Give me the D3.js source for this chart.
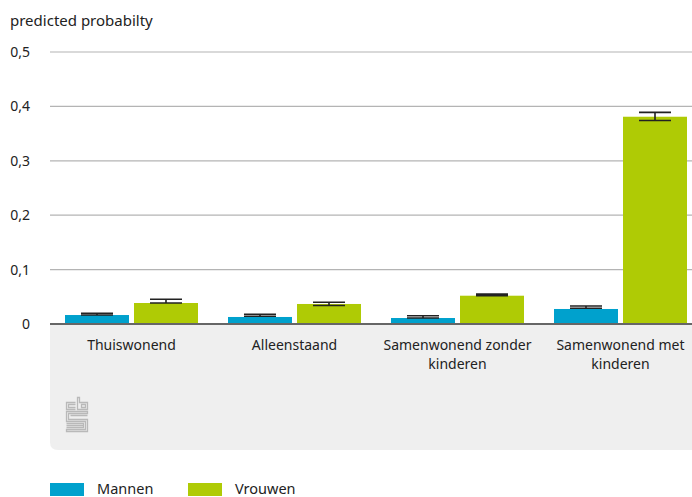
<!DOCTYPE html>
<html><head><meta charset="utf-8">
<script src="https://cdn.jsdelivr.net/npm/d3@7"></script>
<style>body{margin:0;background:#fff}svg{display:block}text{font-family:"Noto Sans",sans-serif;fill:#222}</style>
</head><body><svg id="c" width="692" height="497"></svg>
<script>
const categories = [["Thuiswonend"],["Alleenstaand"],["Samenwonend zonder","kinderen"],["Samenwonend met","kinderen"]];
const series = ["Mannen","Vrouwen"];
const mannen = [0.0165, 0.0129, 0.011, 0.0276];
const mannenLo = [0.0165, 0.0142, 0.011, 0.029];
const mannenHi = [0.0197, 0.0178, 0.0153, 0.033];
const vrouwen = [0.0386, 0.0368, 0.052, 0.381];
const vrouwenLo = [0.0386, 0.034, 0.052, 0.374];
const vrouwenHi = [0.0454, 0.040, 0.055, 0.389];
const yTicks = [0, 0.1, 0.2, 0.3, 0.4, 0.5];
const colors = ["#00a1cd", "#afcb05"];

(function () {
const svg = d3.select("#c");
const pLeft = 50, pRight = 692, pTop = 52, pBottom = 324;
const y = d3.scaleLinear().domain([0, 0.5]).range([pBottom, pTop]);
const x0 = d3.scaleBand().domain(d3.range(categories.length)).range([pLeft, pLeft + 4 * 163]).paddingInner(0).paddingOuter(0);
const x1 = d3.scaleBand().domain(series).range([15, 148]).paddingInner(0.0725);

// grey panel
const pb = 450, r = 8;
svg.append("path").attr("d", `M${pLeft},${pBottom} H${pRight} V${pb} H${pLeft + r} Q${pLeft},${pb} ${pLeft},${pb - r} Z`).attr("fill", "#efefef");

// title
svg.append("text").attr("x", 10).attr("y", 26).attr("font-size", 15).text("predicted probabilty");

// gridlines
const fmt = d => d === 0 ? "0" : d3.format(".1f")(d).replace(".", ",");
svg.append("g").selectAll("line").data(yTicks.filter(d => d > 0)).join("line")
  .attr("x1", pLeft).attr("x2", pRight).attr("y1", d => y(d)).attr("y2", d => y(d))
  .attr("stroke", "#b4b4b4").attr("stroke-width", 1.2);
svg.append("g").selectAll("text").data(yTicks).join("text")
  .attr("x", 30).attr("y", d => y(d) + 5).attr("text-anchor", "end").attr("font-size", 14).text(fmt);

// bars
const data = [];
categories.forEach((c, i) => {
  data.push({i, s: "Mannen", v: mannen[i], lo: mannenLo[i], hi: mannenHi[i], c: colors[0]});
  data.push({i, s: "Vrouwen", v: vrouwen[i], lo: vrouwenLo[i], hi: vrouwenHi[i], c: colors[1]});
});
svg.append("g").selectAll("rect").data(data).join("rect")
  .attr("x", d => x0(d.i) + x1(d.s)).attr("width", x1.bandwidth())
  .attr("y", d => y(d.v)).attr("height", d => y(0) - y(d.v)).attr("fill", d => d.c);

// error bars
const eb = svg.append("g").attr("stroke", "#222").attr("stroke-width", 1.6);
data.forEach(d => {
  const cx = x0(d.i) + x1(d.s) + x1.bandwidth() / 2, hw = 16;
  eb.append("line").attr("x1", cx).attr("x2", cx).attr("y1", y(d.lo)).attr("y2", y(d.hi));
  eb.append("line").attr("x1", cx - hw).attr("x2", cx + hw).attr("y1", y(d.lo)).attr("y2", y(d.lo));
  eb.append("line").attr("x1", cx - hw).attr("x2", cx + hw).attr("y1", y(d.hi)).attr("y2", y(d.hi));
});

// baseline
svg.append("line").attr("x1", pLeft).attr("x2", pRight).attr("y1", pBottom).attr("y2", pBottom).attr("stroke", "#666").attr("stroke-width", 2);

// category labels
categories.forEach((lines, i) => {
  const cx = x0(i) + x0.bandwidth() / 2;
  const t = svg.append("text").attr("text-anchor", "middle").attr("font-size", 14);
  lines.forEach((l, k) => t.append("tspan").attr("x", cx).attr("y", 350 + k * 19).text(l));
});

// cbs logo
const lg = svg.append("g").attr("transform", "translate(66,397)").attr("fill", "none").attr("stroke", "#b9b9b9").attr("stroke-width", 1.3);
lg.append("path").attr("d", "M9.5,5.5 H0.5 V12.5 H9.5 M9.5,7.5 H2.5 V10.5 H9.5 M11.5,0.5 V12.5 H21.5 V5.5 H13.5 V0.5 Z M15.5,7.5 H19.5 V10.5 H15.5 Z");
lg.append("path").attr("d", "M21.5,14.5 H0.5 V24.5 H19.5 V32.5 H0.5 V34.5 H21.5 V22.5 H2.5 V16.5 H21.5 Z M4.5,18.5 H21.5 M0.5,28.5 H17.5");
lg.append("path").attr("d", "M0.5,26.5 H17.5 V30.5 H0.5");

// legend
series.forEach((s, k) => {
  const lx = 50 + k * 138;
  svg.append("rect").attr("x", lx).attr("y", 483).attr("width", 34).attr("height", 13).attr("fill", colors[k]);
  svg.append("text").attr("x", lx + 47).attr("y", 494).attr("font-size", 14.5).text(s);
});
})();
</script></body></html>
